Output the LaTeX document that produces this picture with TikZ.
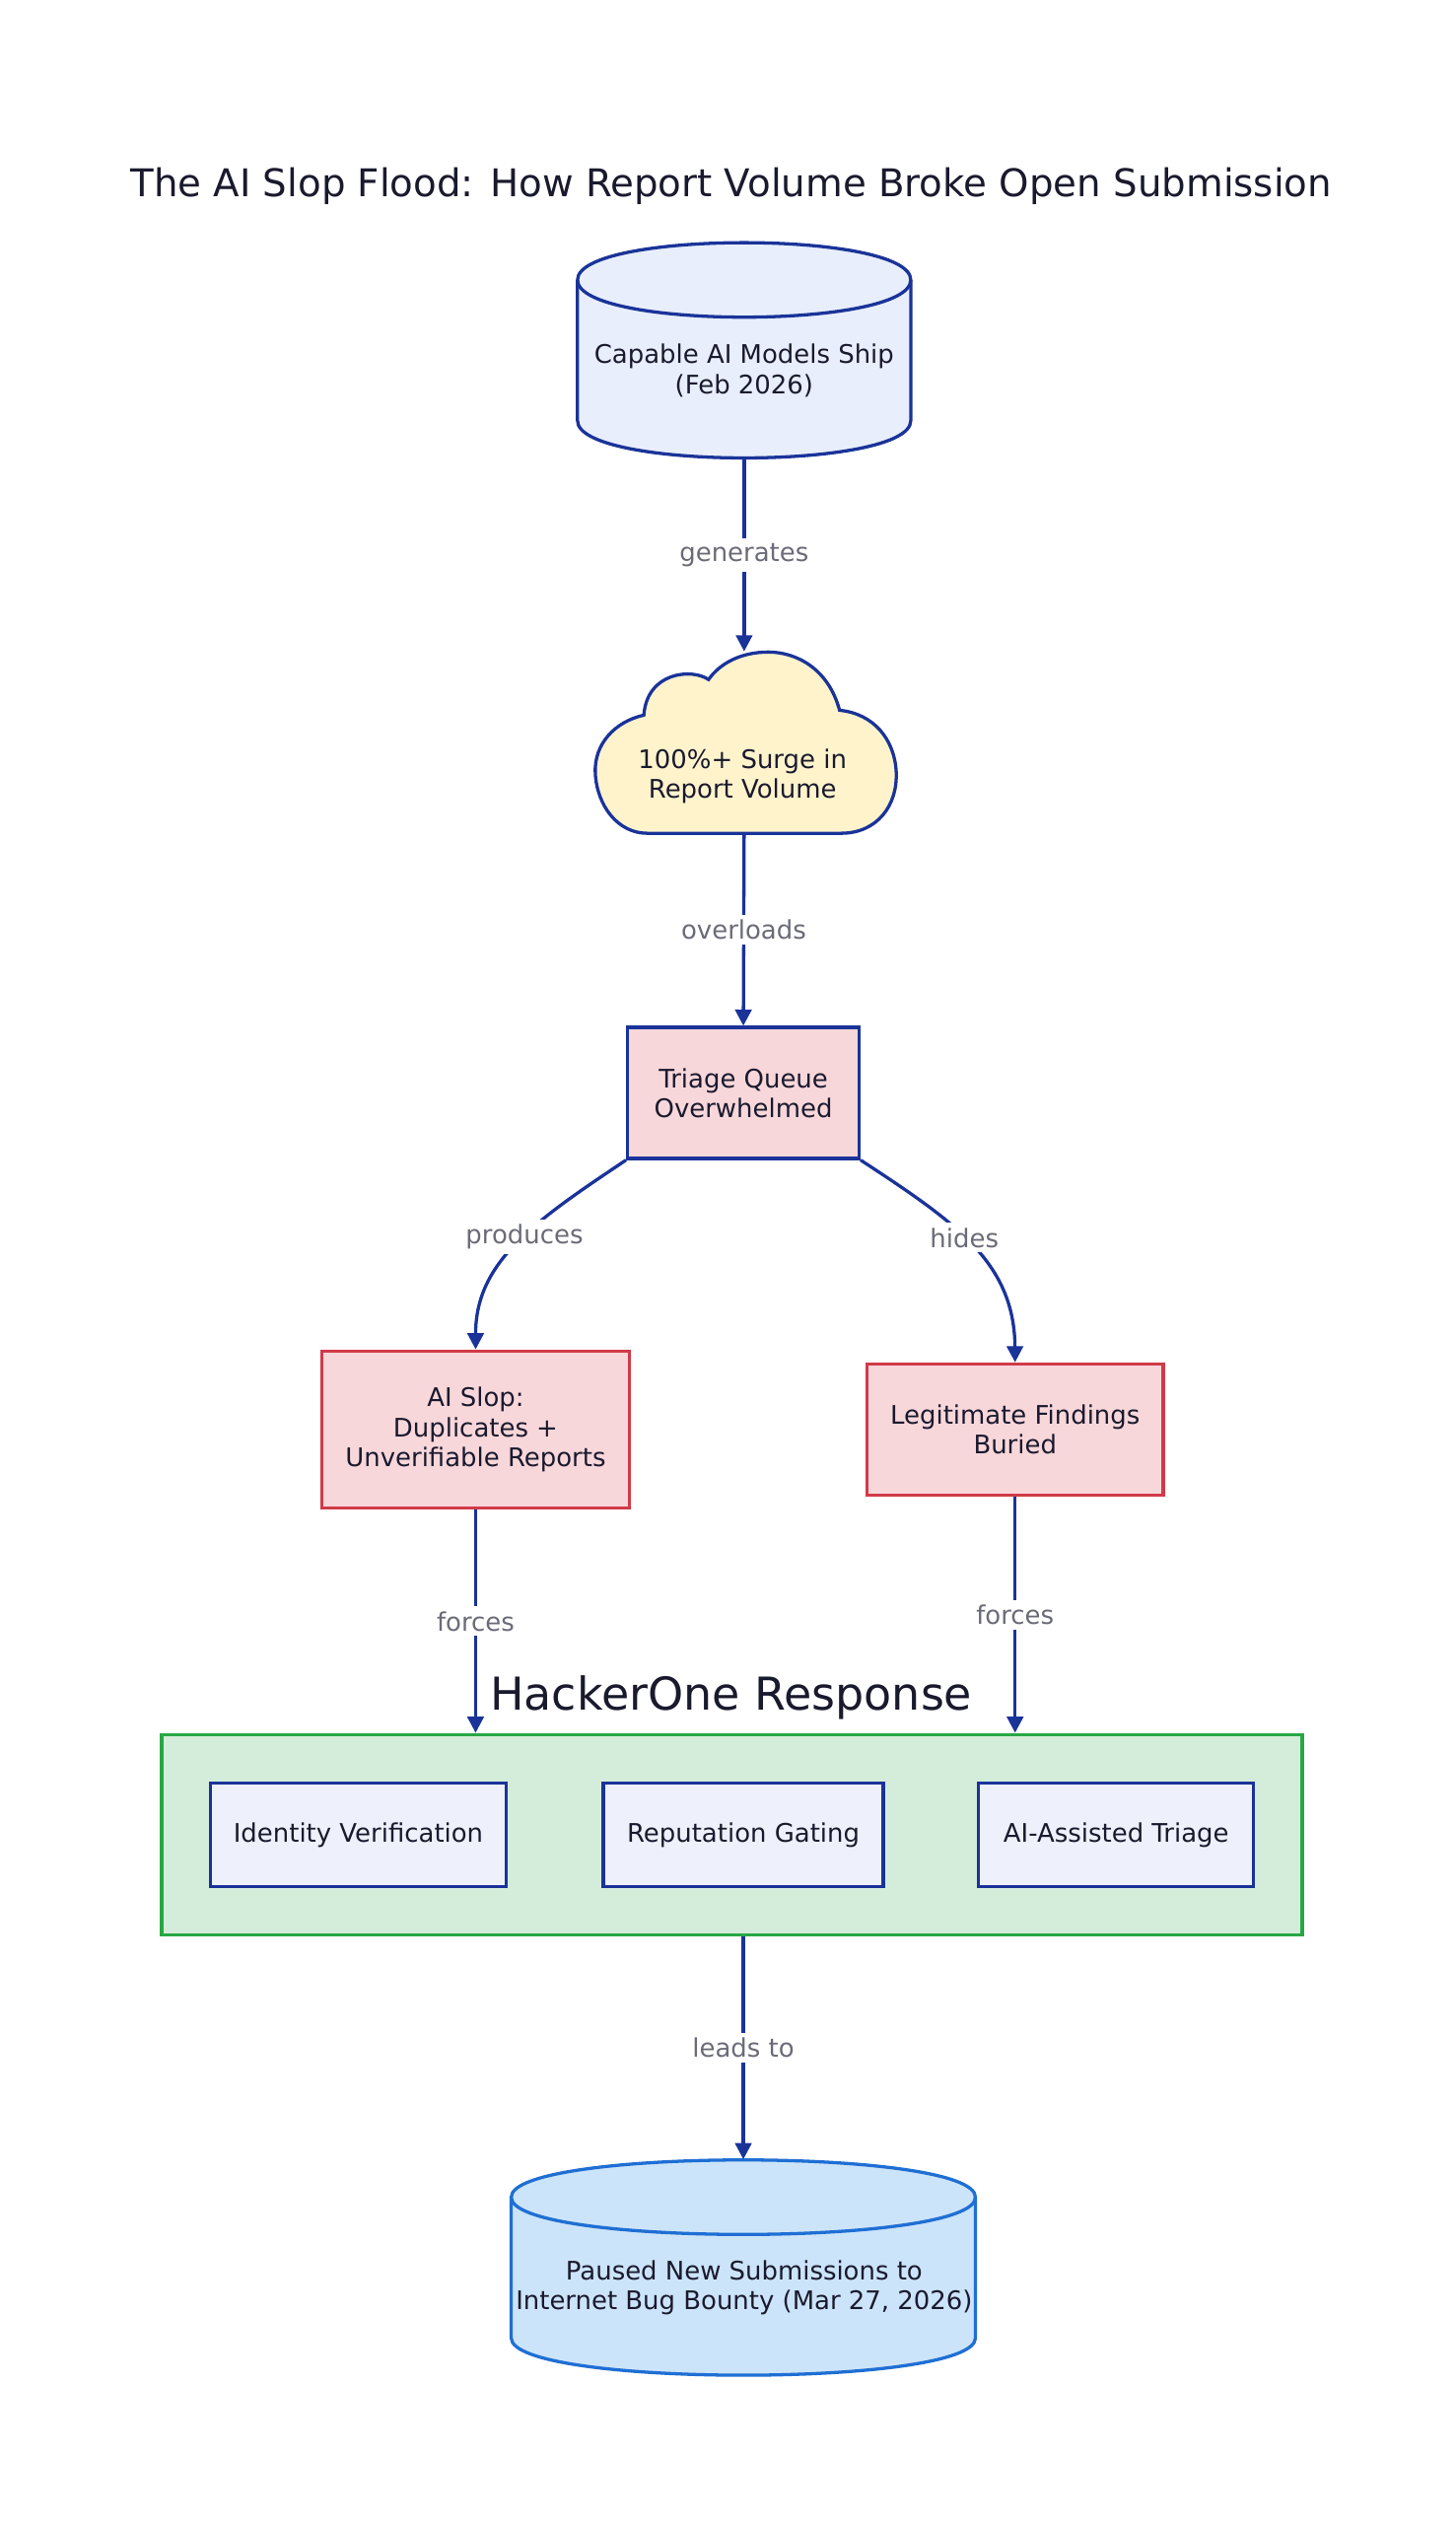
\documentclass[tikz,border=0pt]{standalone}
\usepackage{fontspec}
\setmainfont{DejaVu Sans}
\usetikzlibrary{arrows.meta}
\definecolor{ln}{HTML}{1A3399}
\definecolor{tx}{HTML}{1A1A2E}
\definecolor{lbl}{HTML}{6B6B78}
\definecolor{cylA}{HTML}{E8EEFB}
\definecolor{cloudF}{HTML}{FFF3CC}
\definecolor{pinkF}{HTML}{F8D7DA}
\definecolor{redB}{HTML}{D13A48}
\definecolor{grnF}{HTML}{D4EDDA}
\definecolor{grnB}{HTML}{28A745}
\definecolor{innF}{HTML}{EEF0FB}
\definecolor{cylBF}{HTML}{CCE4F9}
\definecolor{cylBB}{HTML}{1F6FD4}
\tikzset{
 every node/.style={text=tx,font=\fontsize{7.9}{9.2}\selectfont,align=center},
 conn/.style={draw=ln,line width=1pt,-{Triangle[length=5pt,width=5pt]}},
 elab/.style={fill=white,text=lbl,inner sep=1.5pt},
 box/.style={draw=ln,line width=1pt,rectangle,inner sep=0pt},
 ghost/.style={rectangle,inner sep=0pt}
}
\begin{document}
\begin{tikzpicture}[x=0.5pt,y=-0.5pt]
\useasboundingbox (0,0) rectangle (900,1560);
\node[font=\fontsize{11.8}{14}\selectfont] (title) at (452,115) {The AI Slop Flood: How Report Volume Broke Open Submission};
% top cylinder
\filldraw[draw=ln,fill=cylA,line width=1pt] (357,173) -- (357,260) .. controls (357,290.7) and (563,290.7) .. (563,260) -- (563,173) .. controls (563,142.3) and (357,142.3) .. (357,173) -- cycle;
\draw[ln,line width=1pt] (357,173) .. controls (357,203.7) and (563,203.7) .. (563,173);
\node[ghost,minimum width=103pt,minimum height=66.5pt] (cap) at (460,216.5) {};
\node (capt) at (460,229) {Capable AI Models Ship\\(Feb 2026)};
% cloud
\filldraw[draw=ln,fill=cloudF,line width=1pt] (400,515) -- (520,515) .. controls (542,515) and (555,498) .. (554,477) .. controls (553,457) and (540,441) .. (519,439) .. controls (512,413) and (492,403) .. (475,403) .. controls (458,403) and (445,410) .. (438,420) .. controls (428,413) and (400,415) .. (398,442) .. controls (380,446) and (367,460) .. (368,478) .. controls (369,498) and (382,515) .. (400,515) -- cycle;
\node[ghost,minimum width=93pt,minimum height=56pt] (surge) at (460,459) {};
\node (surget) at (459,480) {100\%+ Surge in\\Report Volume};
\node[box,fill=pinkF,minimum width=71.5pt,minimum height=40.5pt] (tri) at (459.5,675.5) {Triage Queue\\Overwhelmed};
\node[box,draw=redB,fill=pinkF,minimum width=95pt,minimum height=48.5pt] (slop) at (294,883.5) {AI Slop:\\Duplicates +\\Unverifiable Reports};
\node[box,draw=redB,fill=pinkF,minimum width=91.5pt,minimum height=40.5pt] (legit) at (627.5,883.5) {Legitimate Findings\\Buried};
\node[font=\fontsize{14}{16}\selectfont] (h1) at (452,1049) {HackerOne Response};
\node[rectangle,draw=grnB,line width=1pt,fill=grnF,minimum width=352.5pt,minimum height=62pt,inner sep=0pt] (grp) at (452.5,1134) {};
\node[box,fill=innF,minimum width=91.5pt,minimum height=32pt] (id) at (221.5,1134) {Identity Verification};
\node[box,fill=innF,minimum width=86.5pt,minimum height=32pt] (rep) at (459.5,1134) {Reputation Gating};
\node[box,fill=innF,minimum width=85pt,minimum height=32pt] (ai) at (690,1134) {AI-Assisted Triage};
% bottom cylinder
\filldraw[draw=cylBB,fill=cylBF,line width=1pt] (316,1358) -- (316,1445) .. controls (316,1475.7) and (603,1475.7) .. (603,1445) -- (603,1358) .. controls (603,1327.3) and (316,1327.3) .. (316,1358) -- cycle;
\draw[cylBB,line width=1pt] (316,1358) .. controls (316,1388.7) and (603,1388.7) .. (603,1358);
\node[ghost,minimum width=143.5pt,minimum height=66.5pt] (pause) at (459.5,1401.5) {};
\node (pauset) at (460,1414) {Paused New Submissions to\\Internet Bug Bounty (Mar 27, 2026)};
\draw[conn] (cap.south) -- node[elab]{generates} (surge.north);
\draw[conn] (surge.south) -- node[elab]{overloads} (tri.north);
\draw[conn] (tri.south west) .. controls (330,755) and (294,780) .. node[elab,pos=0.45]{produces} (slop.north);
\draw[conn] (tri.south east) .. controls (590,755) and (627,780) .. node[elab,pos=0.45]{hides} (legit.north);
\draw[conn] (slop.south) -- node[elab]{forces} (slop.south |- grp.north);
\draw[conn] (legit.south) -- node[elab]{forces} (legit.south |- grp.north);
\draw[conn] (grp.south -| rep) -- node[elab]{leads to} (pause.north);
\end{tikzpicture}
\end{document}
